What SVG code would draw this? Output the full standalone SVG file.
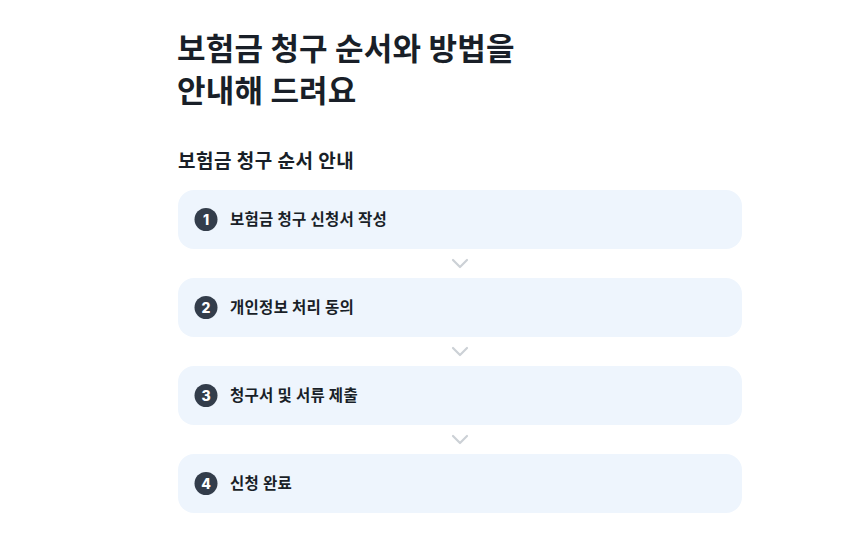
<svg xmlns="http://www.w3.org/2000/svg" width="858" height="546" viewBox="0 0 858 546">
<style>
text{font-family:"Noto Sans CJK KR","Noto Sans",sans-serif;font-weight:700;fill:#191f28}
.title{font-size:31px;letter-spacing:0.2px}
.sub{font-size:19px;letter-spacing:0.5px}
.box{fill:#eef5fd}
.num{fill:#333d4b}
.numt{font-family:"Inter","Liberation Sans",sans-serif;font-size:14px;fill:#ffffff;text-anchor:middle;font-weight:800}
.lbl{font-size:15.5px;letter-spacing:0.3px}
.chev{fill:none;stroke:#ccd1d6;stroke-width:2.2;stroke-linecap:round;stroke-linejoin:round}
</style>
<rect width="858" height="546" fill="#ffffff"/>
<g id="heading">
<text class="title" x="177" y="60">보험금 청구 순서와 방법을</text>
<text class="title" x="177" y="102">안내해 드려요</text>
<text class="sub" x="178" y="168">보험금 청구 순서 안내</text>
</g>
<g id="step1">
<rect class="box" x="178" y="190" width="564" height="59" rx="16"/>
<circle class="num" cx="206" cy="219.5" r="11.5"/>
<text class="numt" x="206" y="224.5">1</text>
<text class="lbl" x="230" y="225">보험금 청구 신청서 작성</text>
</g>
<g id="step2">
<rect class="box" x="178" y="278" width="564" height="59" rx="16"/>
<circle class="num" cx="206" cy="307.5" r="11.5"/>
<text class="numt" x="206" y="312.5">2</text>
<text class="lbl" x="230" y="313">개인정보 처리 동의</text>
</g>
<g id="step3">
<rect class="box" x="178" y="366" width="564" height="59" rx="16"/>
<circle class="num" cx="206" cy="395.5" r="11.5"/>
<text class="numt" x="206" y="400.5">3</text>
<text class="lbl" x="230" y="401">청구서 및 서류 제출</text>
</g>
<g id="step4">
<rect class="box" x="178" y="454" width="564" height="59" rx="16"/>
<circle class="num" cx="206" cy="483.5" r="11.5"/>
<text class="numt" x="206" y="488.5">4</text>
<text class="lbl" x="230" y="489">신청 완료</text>
</g>
<g id="connectors">
<path class="chev" d="M453 260 L460 267 L467 260"/>
<path class="chev" d="M453 348 L460 355 L467 348"/>
<path class="chev" d="M453 436 L460 443 L467 436"/>
</g>
</svg>
